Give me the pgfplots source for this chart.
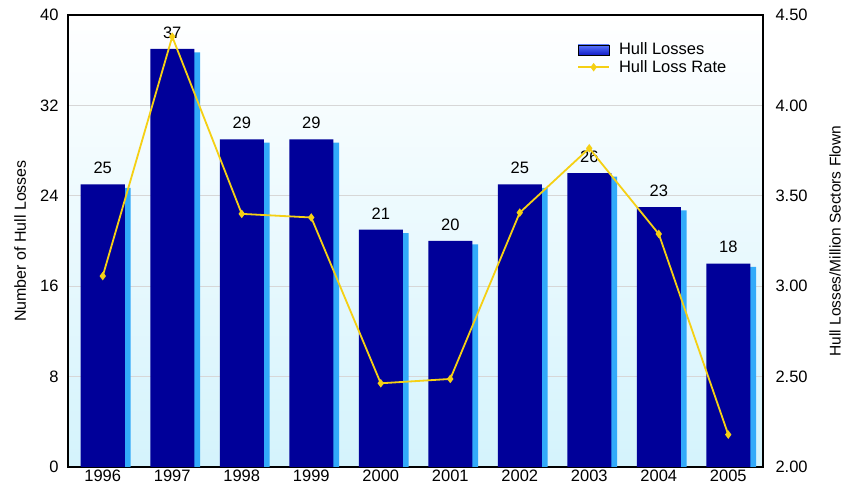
\documentclass[border=0pt]{standalone}
\usepackage{fontspec}
\setmainfont{Liberation Sans}
\usepackage{pgfplots}
\pgfplotsset{compat=1.18}
\definecolor{barblue}{RGB}{0,0,153}
\definecolor{sideblue}{RGB}{50,170,250}
\definecolor{bgcyan}{RGB}{212,243,252}
\definecolor{linegold}{RGB}{245,208,20}
\definecolor{gridgray}{RGB}{215,215,215}
\definecolor{legtop}{RGB}{90,120,255}
\definecolor{legbot}{RGB}{20,30,200}
\pgfplotsset{/pgf/number format/assume math mode=true,
  linelegend/.style={legend image code/.code={\draw[mark repeat=2,mark phase=2,##1] plot coordinates {(0pt,0pt) (15.5pt,0pt) (31pt,0pt)};}},
  barlegend/.style={legend image code/.code={\shade[top color=legtop, bottom color=legbot] (0pt,-5pt) rectangle (31pt,5pt);}}}
\begin{document}
\begin{tikzpicture}[font=\fontsize{16.5}{19.8}\selectfont]
\useasboundingbox (-68pt,-22pt) rectangle (780pt,467pt);
\begin{axis}[
  at={(0pt,0pt)}, anchor=south west,
  scale only axis, width=695pt, height=452pt,
  xmin=-0.5, xmax=9.5, ymin=0, ymax=40,
  xtick={0,1,2,3,4,5,6,7,8,9},
  xticklabels={1996,1997,1998,1999,2000,2001,2002,2003,2004,2005},
  ytick={0,8,16,24,32,40},
  ymajorgrids, major grid style={gridgray, line width=0.8pt},
  major tick length=0pt,
  axis line style={line width=1.6pt},
  yticklabel style={xshift=-6pt},
  xticklabel style={yshift=1pt},
  ylabel={Number of Hull Losses},
  ylabel style={font=\fontsize{16}{19}\selectfont, at={(axis description cs:-0.069,0.5)}, anchor=center},
  axis background/.style={shade, top color=white, middle color=white!55!bgcyan, bottom color=bgcyan},
]
\addplot[ybar, bar width=6pt, bar shift=24.75pt, fill=sideblue, draw=none]
  coordinates {(0,24.7) (1,36.7) (2,28.7) (3,28.7) (4,20.7) (5,19.7) (6,24.7) (7,25.7) (8,22.7) (9,17.7)};
\addplot[ybar, bar width=44pt, bar shift=0pt, fill=barblue, draw=none,
  nodes near coords, nodes near coords style={text=black, yshift=7pt, font=\fontsize{16.5}{19.8}\selectfont}]
  coordinates {(0,25) (1,37) (2,29) (3,29) (4,21) (5,20) (6,25) (7,26) (8,23) (9,18)};
\end{axis}
\begin{axis}[
  at={(0pt,0pt)}, anchor=south west,
  scale only axis, width=695pt, height=452pt,
  xmin=-0.5, xmax=9.5, ymin=2, ymax=4.5,
  axis x line=none, axis y line*=right,
  axis line style={line width=1.6pt},
  major tick length=0pt,
  ytick={2,2.5,3,3.5,4,4.5},
  yticklabel style={xshift=9pt, /pgf/number format/fixed, /pgf/number format/fixed zerofill, /pgf/number format/precision=2},
  ylabel={Hull Losses/Million Sectors Flown},
  ylabel style={font=\fontsize{15.5}{18.6}\selectfont, at={(axis description cs:1.1036,0.5)}, anchor=center},
  legend style={draw=none, fill=none, at={(axis description cs:0.7324,0.9038)}, anchor=west,
    inner sep=0pt, row sep=4pt, nodes={inner sep=0pt},
    /tikz/every odd column/.append style={column sep=9pt}},
  legend cell align=left,
]
\addlegendimage{barlegend}
\addlegendentry{Hull Losses}
\addplot[linegold, line width=1.8pt, mark=diamond*, mark size=2.8pt, linelegend]
  coordinates {(0,3.056) (1,4.38) (2,3.40) (3,3.38) (4,2.463) (5,2.487) (6,3.407) (7,3.763) (8,3.289) (9,2.179)};
\addlegendentry{Hull Loss Rate}
\end{axis}
\end{tikzpicture}
\end{document}
